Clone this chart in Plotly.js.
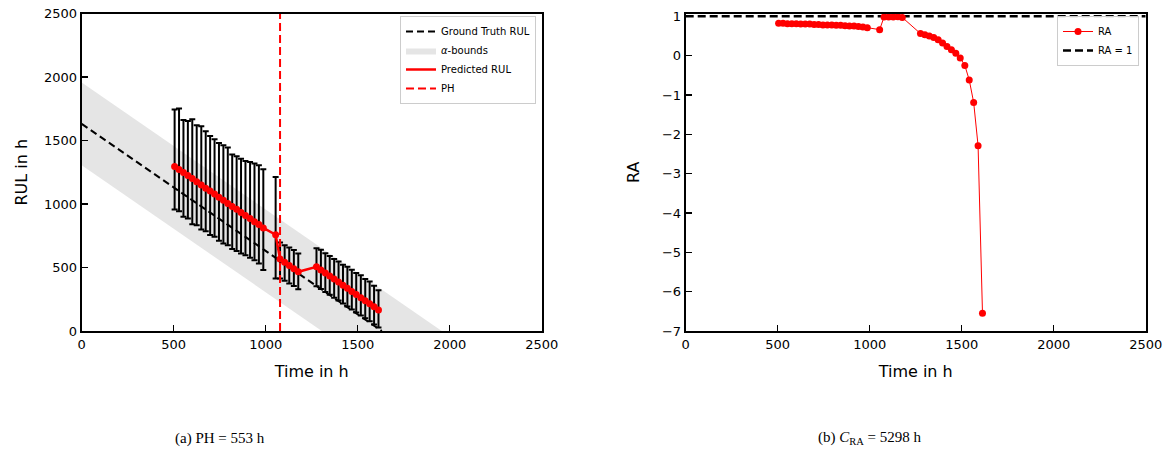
<!DOCTYPE html>
<html><head><meta charset="utf-8">
<script src="https://cdn.plot.ly/plotly-3.0.1.min.js"></script>
<style>html,body{margin:0;padding:0;background:#fff}#chart{width:1169px;height:458px}</style>
</head><body><div id="chart"></div>
<script>
// ---- data ----
const gtTime = [0, 1631];
const gtRUL = [1631, 0];
const bandX = [0, 1957, 1305, 0];           // alpha-bounds polygon (time)
const bandY = [1957, 0, 0, 1305];           // alpha-bounds polygon (RUL)
const phTime = [1078, 1078];
const phY = [0, 2500];

const predTime = [505,529,553,577,601,625,650,674,698,722,746,770,794,818,842,866,890,915,939,963,987,
  1054,
  1078,1103,1128,1153,1177,
  1276,1300,1324,1348,1372,1396,1420,1444,1468,1492,1517,1541,1565,1589,1613];
const predRUL = [1296,1272,1249,1224,1200,1176,1150,1125,1102,1078,1053,1030,1004,981,958,933,909,886,860,838,812,
  758,
  566,541,516,491,466,
  505,481,457,433,409,385,360,336,312,287,262,238,214,190,165];
const predUpper = [1745,1751,1662,1654,1667,1620,1612,1572,1536,1509,1481,1462,1444,1389,1376,1357,1339,1331,1318,1305,1274,
  1213,
  697,676,657,637,611,
  652,640,612,590,566,548,522,505,482,456,438,410,390,356,320];
const predLower = [957,943,899,886,841,833,799,786,755,742,710,689,676,645,629,611,597,576,558,532,480,
  414,
  414,395,374,354,328,
  352,330,308,285,262,240,216,193,170,146,122,100,76,52,28];

const raValues = [0.82,0.82,0.81,0.81,0.81,0.80,0.80,0.80,0.79,0.79,0.78,0.78,0.78,0.77,0.77,0.76,0.75,0.75,0.74,0.73,0.71,
  0.66,
  0.98,0.98,0.98,0.99,0.97,
  0.56,0.53,0.50,0.46,0.40,0.32,0.23,0.15,0.06,-0.06,-0.25,-0.62,-1.19,-2.29,-6.55];
const raOneX = [0, 2500];
const raOneY = [1, 1];

const xTicks = [0, 500, 1000, 1500, 2000, 2500];
const rulTicks = [0, 500, 1000, 1500, 2000, 2500];
const raTicks = [-7, -6, -5, -4, -3, -2, -1, 0, 1];

// ---- traces ----
const errPlus = predUpper.map((u, i) => u - predRUL[i]);
const errMinus = predLower.map((l, i) => predRUL[i] - l);
const RED = 'rgb(255,0,0)';

const traces = [
  {x: bandX, y: bandY, type: 'scatter', mode: 'lines', fill: 'toself',
   fillcolor: 'rgb(229,229,229)', line: {width: 0, color: 'rgba(0,0,0,0)'},
   name: '<i>α</i>-bounds', xaxis: 'x', yaxis: 'y', legend: 'legend', legendrank: 2},
  {x: gtTime, y: gtRUL, type: 'scatter', mode: 'lines',
   line: {color: 'black', width: 2, dash: '7px,4px'},
   name: 'Ground Truth RUL', xaxis: 'x', yaxis: 'y', legend: 'legend', legendrank: 1},
  {x: predTime, y: predRUL, type: 'scatter', mode: 'markers',
   marker: {size: 1, color: 'rgba(0,0,0,0)'},
   error_y: {type: 'data', symmetric: false, array: errPlus, arrayminus: errMinus,
             color: 'black', thickness: 2, width: 3},
   showlegend: false, hoverinfo: 'skip', xaxis: 'x', yaxis: 'y'},
  {x: predTime, y: predRUL, type: 'scatter', mode: 'lines+markers',
   line: {color: RED, width: 2.5}, marker: {color: RED, size: 7},
   name: 'Predicted RUL', showlegend: false, xaxis: 'x', yaxis: 'y'},
  {x: [null], y: [null], type: 'scatter', mode: 'lines',
   line: {color: RED, width: 2.5},
   name: 'Predicted RUL', xaxis: 'x', yaxis: 'y', legend: 'legend', legendrank: 3},
  {x: phTime, y: phY, type: 'scatter', mode: 'lines',
   line: {color: RED, width: 2, dash: '8px,4px'},
   name: 'PH', xaxis: 'x', yaxis: 'y', legend: 'legend', legendrank: 4},

  {x: raOneX, y: raOneY, type: 'scatter', mode: 'lines',
   line: {color: 'black', width: 2.5, dash: '8px,4px'},
   name: 'RA = 1', xaxis: 'x2', yaxis: 'y2', legend: 'legend2', legendrank: 2},
  {x: predTime, y: raValues, type: 'scatter', mode: 'lines+markers',
   line: {color: RED, width: 1}, marker: {color: RED, size: 7},
   name: 'RA', xaxis: 'x2', yaxis: 'y2', legend: 'legend2', legendrank: 1}
];

const tickFont = {family: 'DejaVu Sans', size: 13, color: 'black'};
const titleFont = {family: 'DejaVu Sans', size: 16, color: 'black'};
function axisBase() {
  return {showline: true, linecolor: 'black', linewidth: 2, mirror: true,
          ticks: 'inside', ticklen: 6, tickwidth: 1.5, tickcolor: 'black',
          showgrid: false, zeroline: false, tickfont: tickFont, automargin: false};
}
const W = 1169, H = 458;
const yDom = [(H - 331) / H, (H - 13.5) / H];
const capFont = {family: 'Liberation Serif', size: 15, color: 'black'};
const legFont = {family: 'DejaVu Sans', size: 10, color: 'black'};

const layout = {
  width: W, height: H, margin: {l: 0, r: 0, t: 0, b: 0},
  paper_bgcolor: 'white', plot_bgcolor: 'white',
  showlegend: true,
  xaxis: Object.assign(axisBase(), {domain: [81.7 / W, 541.7 / W], range: [0, 2500],
    tickmode: 'array', tickvals: xTicks, title: {text: 'Time in h', font: titleFont, standoff: 15}}),
  yaxis: Object.assign(axisBase(), {domain: yDom, range: [0, 2500],
    tickmode: 'array', tickvals: rulTicks, title: {text: 'RUL in h', font: titleFont, standoff: 12}}),
  xaxis2: Object.assign(axisBase(), {domain: [685.7 / W, 1145.7 / W], range: [0, 2500], anchor: 'y2',
    tickmode: 'array', tickvals: xTicks, title: {text: 'Time in h', font: titleFont, standoff: 15}}),
  yaxis2: Object.assign(axisBase(), {domain: yDom, range: [-7, 1.07], anchor: 'x2',
    tickmode: 'array', tickvals: raTicks, title: {text: 'RA', font: titleFont, standoff: 18}}),
  legend: {x: 536 / W, y: (H - 16) / H, xanchor: 'right', yanchor: 'top',
    bgcolor: 'rgba(255,255,255,0.85)', bordercolor: '#cccccc', borderwidth: 1,
    font: legFont, itemwidth: 30, traceorder: 'normal'},
  legend2: {x: 1139 / W, y: (H - 16) / H, xanchor: 'right', yanchor: 'top',
    bgcolor: 'rgba(255,255,255,0.85)', bordercolor: '#cccccc', borderwidth: 1,
    font: legFont, itemwidth: 30, traceorder: 'normal'},
  annotations: [
    {xref: 'paper', yref: 'paper', x: 220 / W, y: (H - 438) / H, xanchor: 'center', yanchor: 'middle',
     showarrow: false, text: '(a) PH = 553 h', font: capFont},
    {xref: 'paper', yref: 'paper', x: 870 / W, y: (H - 438) / H, xanchor: 'center', yanchor: 'middle',
     showarrow: false, text: '(b) <i>C</i><sub>RA</sub> = 5298 h', font: capFont}
  ]
};

Plotly.newPlot('chart', traces, layout, {displayModeBar: false, staticPlot: true});
</script></body></html>
